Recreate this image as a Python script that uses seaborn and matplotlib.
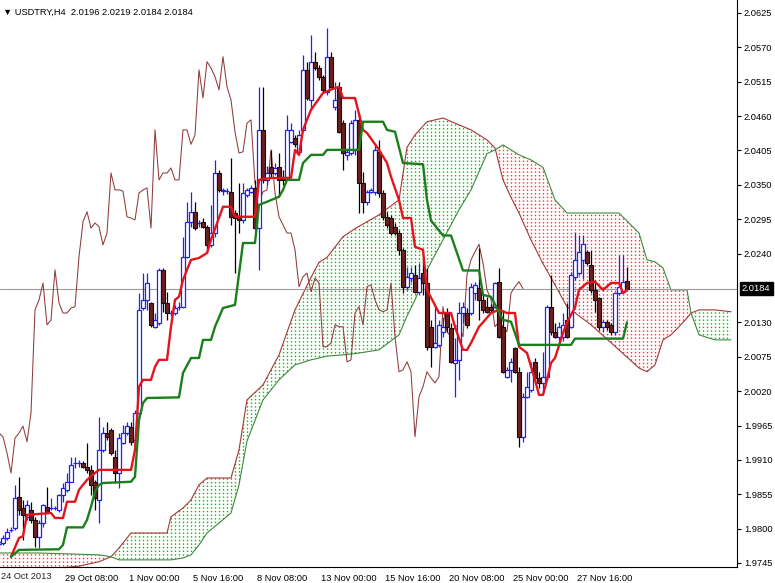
import numpy as np
import pandas as pd
import seaborn as sns
import matplotlib.pyplot as plt
from matplotlib.path import Path
from matplotlib.patches import PathPatch
import matplotlib.transforms as mtransforms

sns.set_theme(style="white")
plt.rcParams['font.family'] = ['Liberation Sans', 'DejaVu Sans']

# USDTRY H4 candles (bar 0 = 24 Oct 16:00)
opens = [1.9775, 1.9777, 1.9785, 1.9798, 1.9801, 1.9851, 1.9833, 1.9819, 1.9830, 1.9814,
         1.9787, 1.9809, 1.9835, 1.9833, 1.9833, 1.9830, 1.9854, 1.9862, 1.9875, 1.9905,
         1.9905, 1.9905, 1.9898, 1.9894, 1.9875, 1.9846, 1.9926, 1.9953, 1.9958, 1.9915,
         1.9889, 1.9937, 1.9953, 1.9963, 1.9942, 1.9985, 2.0153, 2.0166, 2.0161, 2.0123,
         2.0129, 2.0214, 2.0161, 2.0145, 2.0145, 2.0155, 2.0155, 2.0235, 2.0291, 2.0307,
         2.0289, 2.0291, 2.0283, 2.0254, 2.0273, 2.0369, 2.0340, 2.0340, 2.0339, 2.0305,
         2.0299, 2.0294, 2.0334, 2.0339, 2.0345, 2.0281, 2.0438, 2.0358, 2.0378, 2.0369,
         2.0378, 2.0363, 2.0363, 2.0419, 2.0425, 2.0403, 2.0438, 2.0534, 2.0486, 2.0547,
         2.0537, 2.0523, 2.0499, 2.0555, 2.0475, 2.0507, 2.0449, 2.0398, 2.0401, 2.0406,
         2.0454, 2.0353, 2.0323, 2.0339, 2.0339, 2.0403, 2.0337, 2.0299, 2.0297, 2.0283,
         2.0273, 2.0246, 2.0187, 2.0201, 2.0206, 2.0179, 2.0209, 2.0193, 2.0123, 2.0091,
         2.0094, 2.0115, 2.0145, 2.0121, 2.0065, 2.0070, 2.0145, 2.0145, 2.0145, 2.0177,
         2.0185, 2.0166, 2.0155, 2.0155, 2.0155, 2.0195, 2.0123, 2.0043, 2.0054, 2.0089,
         2.0051, 1.9947, 2.0011, 2.0022, 2.0067, 2.0041, 2.0033, 2.0043, 2.0155, 2.0115,
         2.0107, 2.0107, 2.0134, 2.0123, 2.0203, 2.0209, 2.0230, 2.0243, 2.0222, 2.0182,
         2.0169, 2.0123, 2.0131, 2.0126, 2.0115, 2.0177, 2.0179, 2.0196]
highs = [1.9782, 1.9790, 1.9801, 1.9803, 1.9870, 1.9883, 1.9846, 1.9846, 1.9843, 1.9819,
         1.9814, 1.9840, 1.9867, 1.9849, 1.9836, 1.9856, 1.9873, 1.9889, 1.9915, 1.9915,
         1.9910, 1.9908, 1.9937, 1.9902, 1.9878, 1.9979, 1.9963, 1.9971, 1.9961, 1.9926,
         1.9953, 1.9966, 1.9971, 1.9971, 1.9990, 2.0177, 2.0209, 2.0209, 2.0163, 2.0145,
         2.0217, 2.0217, 2.0179, 2.0150, 2.0158, 2.0163, 2.0267, 2.0323, 2.0339, 2.0323,
         2.0294, 2.0297, 2.0286, 2.0318, 2.0390, 2.0374, 2.0345, 2.0345, 2.0393, 2.0310,
         2.0353, 2.0353, 2.0345, 2.0350, 2.0358, 2.0507, 2.0507, 2.0380, 2.0406, 2.0385,
         2.0401, 2.0374, 2.0462, 2.0449, 2.0430, 2.0438, 2.0558, 2.0547, 2.0590, 2.0563,
         2.0542, 2.0526, 2.0601, 2.0563, 2.0515, 2.0515, 2.0454, 2.0406, 2.0454, 2.0470,
         2.0465, 2.0371, 2.0342, 2.0345, 2.0414, 2.0422, 2.0342, 2.0307, 2.0302, 2.0289,
         2.0278, 2.0249, 2.0219, 2.0219, 2.0222, 2.0225, 2.0233, 2.0217, 2.0134, 2.0155,
         2.0134, 2.0139, 2.0153, 2.0129, 2.0105, 2.0163, 2.0163, 2.0153, 2.0193, 2.0195,
         2.0249, 2.0174, 2.0171, 2.0160, 2.0195, 2.0217, 2.0150, 2.0059, 2.0073, 2.0091,
         2.0059, 2.0017, 2.0051, 2.0067, 2.0073, 2.0051, 2.0083, 2.0158, 2.0206, 2.0129,
         2.0131, 2.0145, 2.0161, 2.0211, 2.0275, 2.0270, 2.0270, 2.0246, 2.0246, 2.0198,
         2.0171, 2.0134, 2.0134, 2.0129, 2.0179, 2.0238, 2.0238, 2.0219]
lows = [1.9768, 1.9774, 1.9782, 1.9795, 1.9798, 1.9822, 1.9782, 1.9814, 1.9809, 1.9771,
        1.9769, 1.9803, 1.9825, 1.9830, 1.9830, 1.9827, 1.9843, 1.9859, 1.9875, 1.9897,
        1.9899, 1.9897, 1.9889, 1.9854, 1.9830, 1.9809, 1.9923, 1.9942, 1.9918, 1.9873,
        1.9865, 1.9935, 1.9950, 1.9934, 1.9939, 1.9974, 2.0150, 2.0150, 2.0123, 2.0121,
        2.0126, 2.0147, 2.0134, 2.0140, 2.0142, 2.0150, 2.0153, 2.0233, 2.0283, 2.0278,
        2.0283, 2.0281, 2.0241, 2.0251, 2.0267, 2.0339, 2.0334, 2.0336, 2.0286, 2.0209,
        2.0273, 2.0289, 2.0331, 2.0337, 2.0278, 2.0214, 2.0353, 2.0350, 2.0363, 2.0366,
        2.0331, 2.0350, 2.0358, 2.0417, 2.0410, 2.0398, 2.0435, 2.0486, 2.0470, 2.0534,
        2.0518, 2.0497, 2.0494, 2.0505, 2.0470, 2.0433, 2.0374, 2.0390, 2.0398, 2.0398,
        2.0305, 2.0305, 2.0318, 2.0337, 2.0334, 2.0331, 2.0294, 2.0281, 2.0270, 2.0270,
        2.0238, 2.0177, 2.0182, 2.0195, 2.0177, 2.0174, 2.0174, 2.0086, 2.0059, 2.0089,
        2.0091, 2.0107, 2.0115, 2.0065, 2.0011, 2.0038, 2.0129, 2.0121, 2.0142, 2.0166,
        2.0134, 2.0145, 2.0145, 2.0145, 2.0153, 2.0105, 2.0049, 2.0041, 2.0035, 2.0049,
        1.9931, 1.9939, 2.0009, 2.0019, 2.0038, 2.0025, 2.0017, 2.0038, 2.0110, 2.0105,
        2.0101, 2.0101, 2.0105, 2.0121, 2.0198, 2.0206, 2.0200, 2.0222, 2.0177, 2.0147,
        2.0118, 2.0115, 2.0118, 2.0110, 2.0110, 2.0174, 2.0177, 2.0184]
closes = [1.9778, 1.9785, 1.9795, 1.9798, 1.9849, 1.9830, 1.9822, 1.9838, 1.9814, 1.9787,
          1.9809, 1.9838, 1.9827, 1.9833, 1.9833, 1.9854, 1.9865, 1.9875, 1.9902, 1.9905,
          1.9905, 1.9898, 1.9894, 1.9870, 1.9849, 1.9926, 1.9953, 1.9947, 1.9921, 1.9889,
          1.9945, 1.9953, 1.9964, 1.9939, 1.9985, 2.0150, 2.0166, 2.0193, 2.0126, 2.0134,
          2.0214, 2.0161, 2.0145, 2.0145, 2.0153, 2.0155, 2.0235, 2.0291, 2.0307, 2.0281,
          2.0289, 2.0283, 2.0254, 2.0273, 2.0369, 2.0342, 2.0342, 2.0340, 2.0299, 2.0297,
          2.0294, 2.0337, 2.0342, 2.0345, 2.0281, 2.0438, 2.0358, 2.0369, 2.0369, 2.0377,
          2.0358, 2.0358, 2.0438, 2.0438, 2.0415, 2.0430, 2.0534, 2.0489, 2.0547, 2.0537,
          2.0523, 2.0502, 2.0555, 2.0507, 2.0486, 2.0435, 2.0401, 2.0403, 2.0449, 2.0454,
          2.0353, 2.0323, 2.0339, 2.0342, 2.0406, 2.0337, 2.0299, 2.0286, 2.0273, 2.0273,
          2.0246, 2.0187, 2.0203, 2.0209, 2.0179, 2.0201, 2.0193, 2.0091, 2.0091, 2.0097,
          2.0126, 2.0123, 2.0123, 2.0067, 2.0070, 2.0145, 2.0155, 2.0126, 2.0187, 2.0190,
          2.0166, 2.0150, 2.0147, 2.0150, 2.0193, 2.0107, 2.0051, 2.0054, 2.0067, 2.0051,
          1.9947, 2.0011, 2.0027, 2.0051, 2.0041, 2.0033, 2.0043, 2.0155, 2.0115, 2.0107,
          2.0123, 2.0126, 2.0107, 2.0206, 2.0230, 2.0243, 2.0255, 2.0225, 2.0182, 2.0166,
          2.0123, 2.0131, 2.0123, 2.0115, 2.0177, 2.0187, 2.0195, 2.0184]

# Tenkan-sen (bar, price)
tenkan_bar = [3, 5, 6, 7, 13, 14, 16, 17, 19, 20, 22, 24, 25, 33, 34, 35, 36, 38, 39, 40,
              42, 43, 44, 45, 46, 48, 50, 52, 53, 56, 58, 59, 64, 65, 68, 73, 74, 75, 76, 78,
              81, 84, 85, 86, 89, 91, 92, 95, 97, 98, 100, 101, 103, 104, 106, 107, 110, 113, 114, 116,
              117, 118, 120, 121, 123, 125, 127, 129, 130, 132, 134, 135, 136, 137, 138, 139, 141, 142, 144, 145,
              147, 149, 151, 153, 155, 156, 157]
tenkan_val = [1.9755, 1.9785, 1.9788, 1.9822, 1.9825, 1.9817, 1.9817, 1.9843, 1.9843, 1.9862,
              1.9878, 1.9889, 1.9894, 1.9894, 1.9926, 2.0027, 2.0038, 2.0038, 2.0059, 2.0070,
              2.0070, 2.0123, 2.0166, 2.0171, 2.0198, 2.0230, 2.0233, 2.0241, 2.0262, 2.0315,
              2.0315, 2.0299, 2.0299, 2.0358, 2.0361, 2.0361, 2.0406, 2.0398, 2.0438, 2.0470,
              2.0497, 2.0505, 2.0507, 2.0489, 2.0489, 2.0438, 2.0433, 2.0406, 2.0385, 2.0363,
              2.0326, 2.0297, 2.0297, 2.0251, 2.0246, 2.0182, 2.0145, 2.0145, 2.0123, 2.0086,
              2.0086, 2.0097, 2.0123, 2.0130, 2.0145, 2.0150, 2.0145, 2.0145, 2.0091, 2.0081,
              2.0038, 2.0014, 2.0014, 2.0038, 2.0065, 2.0073, 2.0113, 2.0130, 2.0154, 2.0182,
              2.0193, 2.0195, 2.0182, 2.0193, 2.0193, 2.0177, 2.0182]

# Kijun-sen (bar, price)
kijun_bar = [3, 5, 15, 16, 17, 21, 22, 23, 24, 25, 26, 33, 34, 35, 36, 37, 45, 46, 48, 50,
             51, 53, 54, 56, 59, 61, 64, 65, 67, 70, 71, 72, 75, 76, 78, 81, 82, 90, 91, 96,
             97, 99, 101, 106, 107, 108, 111, 113, 116, 120, 121, 123, 126, 128, 130, 143, 144, 156, 157]
kijun_val = [1.9755, 1.9766, 1.9767, 1.9774, 1.9802, 1.9802, 1.9814, 1.9835, 1.9859, 1.9870,
             1.9873, 1.9875, 1.9883, 1.9974, 2.0001, 2.0009, 2.0010, 2.0049, 2.0073, 2.0073,
             2.0102, 2.0102, 2.0123, 2.0153, 2.0158, 2.0257, 2.0257, 2.0318, 2.0323, 2.0331,
             2.0342, 2.0358, 2.0358, 2.0385, 2.0398, 2.0398, 2.0406, 2.0406, 2.0451, 2.0451,
             2.0438, 2.0435, 2.0385, 2.0383, 2.0326, 2.0293, 2.0269, 2.0269, 2.0213, 2.0213,
             2.0174, 2.0171, 2.0134, 2.0131, 2.0094, 2.0094, 2.0104, 2.0104, 2.0130]

# Senkou span A / B (bar, price), cloud runs 26 bars ahead
cloud_bar = [0, 10, 20, 25, 28, 30, 33, 42, 43, 46, 48, 50, 52, 58, 60, 62, 66, 70, 74, 78,
             80, 82, 86, 89, 95, 100, 102, 104, 107, 111, 115, 118, 122, 124, 126, 128, 130, 133, 136, 139,
             142, 148, 155, 160, 162, 164, 166, 168, 170, 172, 173, 175, 179, 183]
span_a = [1.9731, 1.9734, 1.9740, 1.9747, 1.9755, 1.9769, 1.9793, 1.9793, 1.9819, 1.9833,
          1.9846, 1.9870, 1.9881, 1.9881, 1.9926, 2.0006, 2.0030, 2.0078, 2.0150, 2.0202,
          2.0226, 2.0234, 2.0267, 2.0280, 2.0302, 2.0326, 2.0410, 2.0430, 2.0451, 2.0457,
          2.0446, 2.0438, 2.0422, 2.0409, 2.0358, 2.0330, 2.0305, 2.0262, 2.0224, 2.0190,
          2.0155, 2.0126, 2.0086, 2.0057, 2.0051, 2.0062, 2.0102, 2.0110, 2.0123, 2.0137,
          2.0145, 2.0150, 2.0150, 2.0147]
span_b = [1.9761, 1.9761, 1.9759, 1.9758, 1.9755, 1.9750, 1.9750, 1.9750, 1.9750, 1.9753,
          1.9758, 1.9774, 1.9793, 1.9825, 1.9870, 1.9940, 2.0006, 2.0038, 2.0062, 2.0070,
          2.0073, 2.0076, 2.0078, 2.0080, 2.0086, 2.0110, 2.0140, 2.0166, 2.0214, 2.0262,
          2.0310, 2.0342, 2.0400, 2.0406, 2.0414, 2.0406, 2.0398, 2.0390, 2.0378, 2.0326,
          2.0305, 2.0305, 2.0305, 2.0273, 2.0230, 2.0227, 2.0217, 2.0182, 2.0182, 2.0182,
          2.0145, 2.0110, 2.0102, 2.0102]

chikou_shift = 26
price_ticks = [2.0625, 2.0570, 2.0515, 2.0460, 2.0405, 2.0350, 2.0295, 2.0240,
               2.0130, 2.0075, 2.0020, 1.9965, 1.9910, 1.9855, 1.9800, 1.9745]
date_bars = [16, 32, 48, 64, 80, 96, 112, 128, 144]
date_labels = ["29 Oct 08:00", "1 Nov 00:00", "5 Nov 16:00", "8 Nov 08:00", "13 Nov 00:00",
               "15 Nov 16:00", "20 Nov 08:00", "25 Nov 00:00", "27 Nov 16:00"]
first_date = "24 Oct 2013"
last_price = 2.0184
title = "\u25bc USDTRY,H4  2.0196 2.0219 2.0184 2.0184"

bull_col = "#2222ee"
bear_col = "#6a2020"
fs = 6.7

fig = plt.figure(figsize=(7.75, 5.83), dpi=100)
ax = fig.add_axes([0, 16 / 583, 737 / 775, 567 / 583])
ax.set_facecolor("white")
ax.set_xlim(0.25, 184.5)
ax.set_ylim(1.97386, 2.06458)

# cloud: dotted columns clipped to the area between the spans
cb = np.array(cloud_bar)
sa = np.array(span_a)
sb = np.array(span_b)
green_area = ax.fill_between(cb, sa, sb, where=sa >= sb, interpolate=True, facecolor="none", edgecolor="none")
red_area = ax.fill_between(cb, sa, sb, where=sa < sb, interpolate=True, facecolor="none", edgecolor="none")
cols = np.arange(0, cloud_bar[-1] + 1)
for area, col in [(green_area, "#10b010"), (red_area, "#ff2a2a")]:
    paths = area.get_paths()
    if len(paths) == 0:
        continue
    patch = PathPatch(Path.make_compound_path(*paths), transform=ax.transData,
                      facecolor="none", edgecolor="none")
    ax.add_patch(patch)
    dots = ax.vlines(cols, 1.96, 2.07, colors=col, linestyles=(0, (1, 1.6)), lw=1.0, zorder=1)
    dots.set_clip_path(patch)

sns.lineplot(x=cloud_bar, y=span_a, ax=ax, color="#a83535", lw=0.8, sort=False, estimator=None, zorder=1.5)
sns.lineplot(x=cloud_bar, y=span_b, ax=ax, color="#3a8c3a", lw=0.8, sort=False, estimator=None, zorder=1.5)

# current price line
ax.axhline(last_price, color="#9a9a9a", lw=0.8, zorder=2)

# chikou span = close shifted back
chikou = pd.DataFrame({"bar": np.arange(len(closes)) - chikou_shift, "close": closes})
chikou = chikou[chikou.bar >= 0]
sns.lineplot(data=chikou, x="bar", y="close", ax=ax, color="#8e3b3b", lw=0.75, sort=False, estimator=None, zorder=2.5)

# candles
df = pd.DataFrame({"open": opens, "high": highs, "low": lows, "close": closes})
df["bar"] = np.arange(len(df))
up = df[df.close >= df.open]
dn = df[df.close < df.open]
ax.vlines(up.bar, up.low, up.high, color=bull_col, lw=0.9, zorder=3)
ax.vlines(dn.bar, dn.low, dn.high, color="black", lw=0.9, zorder=3)
ax.bar(up.bar, up.close - up.open, bottom=up.open, width=0.78, facecolor="white",
       edgecolor=bull_col, lw=0.9, zorder=3.5)
ax.bar(dn.bar, dn.open - dn.close, bottom=dn.close, width=0.78, facecolor=bear_col,
       edgecolor="#1a0c0c", lw=0.8, zorder=3.5)

# tenkan / kijun
sns.lineplot(x=tenkan_bar, y=tenkan_val, ax=ax, color="#e3141c", lw=1.7, sort=False, estimator=None, zorder=4)
sns.lineplot(x=kijun_bar, y=kijun_val, ax=ax, color="#1a7f1a", lw=1.7, sort=False, estimator=None, zorder=4)

# axes styling like the terminal
for side in ["top", "left"]:
    ax.spines[side].set_visible(False)
for side in ["right", "bottom"]:
    ax.spines[side].set_color("black")
    ax.spines[side].set_linewidth(0.8)
ax.set_xlabel("")
ax.set_ylabel("")
ax.yaxis.tick_right()
ax.set_yticks(price_ticks, labels=[f"{p:.4f}" for p in price_ticks])
ax.tick_params(axis="y", direction="out", length=3, width=0.8, pad=2, labelsize=fs, colors="black")
ax.set_xticks(date_bars, labels=date_labels)
ax.tick_params(axis="x", direction="out", length=4, width=0.8, pad=1, labelsize=fs, colors="black")
shift = mtransforms.ScaledTranslation(2 / 100, 0, fig.dpi_scale_trans)
for lbl in ax.get_xticklabels():
    lbl.set_horizontalalignment("left")
    lbl.set_transform(lbl.get_transform() + shift)
ax.annotate(first_date, xy=(0, 0), xycoords="axes fraction", xytext=(0.5, -3.6),
            textcoords="offset points", ha="left", va="top", fontsize=fs)

# last price tag
tag_tr = mtransforms.blended_transform_factory(ax.transAxes, ax.transData)
ax.text(1.0 + 5 / 737, last_price, f"{last_price:.4f}", transform=tag_tr, ha="left", va="center",
        fontsize=fs, color="white", clip_on=False,
        bbox=dict(boxstyle="square,pad=0.25", facecolor="black", edgecolor="black"))

fig.text(3 / 775, 1 - 12 / 583, title, fontsize=fs, va="center", ha="left", color="black")

fig.savefig("out.png", dpi=100)
